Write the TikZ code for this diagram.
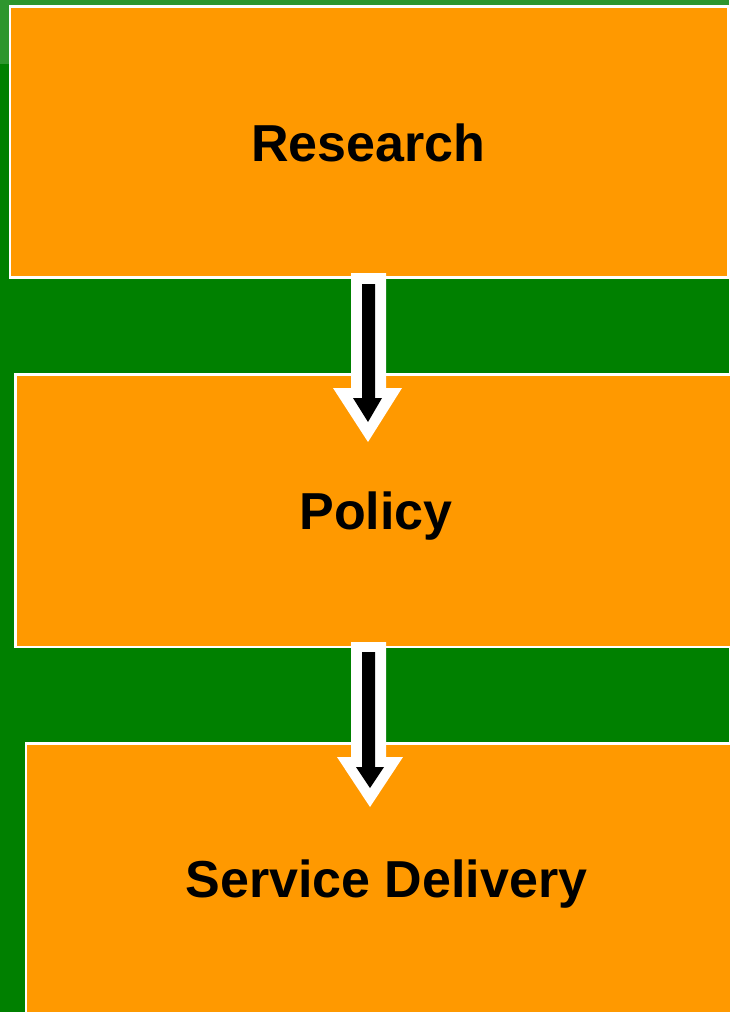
\documentclass[tikz,border=0pt]{standalone}
\usepackage{fontspec}
\setmainfont{Liberation Sans}
\definecolor{bggreen}{HTML}{008000}
\definecolor{bandgreen}{HTML}{2E962E}
\definecolor{boxorange}{HTML}{FF9900}
\begin{document}
\begin{tikzpicture}[x=1pt,y=-1pt,
  box/.style={fill=boxorange,draw=white,line width=2.5pt},
  label/.style={font=\fontsize{52}{57}\selectfont\bfseries,anchor=base,inner sep=0pt},
  arrowout/.style={fill=white,draw=none},
  arrowin/.style={fill=black,draw=none}]
\useasboundingbox (0,0) rectangle (729,1012);
\fill[bggreen] (0,0) rectangle (729,1012);
\fill[bandgreen] (0,0) rectangle (729,64);
% boxes
\draw[box] (9.75,6.25) rectangle (727.8,277.7);
\draw[box] (15.25,374.25) rectangle (740,647);
\draw[box] (25.75,743.25) rectangle (740,1030);
% labels
\node[label] (research) at (368.5,161) {Research};
\node[label] (policy) at (376,529) {Policy};
\node[label] (service) at (386.5,897) {Service Delivery};
% arrow 1
\fill[arrowout] (351,273) -- (386,273) -- (386,388) -- (402,388) -- (368,442) -- (333,388) -- (351,388) -- cycle;
\fill[arrowin] (362,284) -- (375,284) -- (375,398) -- (382,398) -- (368,422) -- (353,398) -- (362,398) -- cycle;
% arrow 2
\fill[arrowout] (351,642) -- (386,642) -- (386,757) -- (403,757) -- (370,807) -- (337,757) -- (351,757) -- cycle;
\fill[arrowin] (362,652) -- (375,652) -- (375,767) -- (384,767) -- (370,788) -- (356,767) -- (362,767) -- cycle;
\end{tikzpicture}
\end{document}
